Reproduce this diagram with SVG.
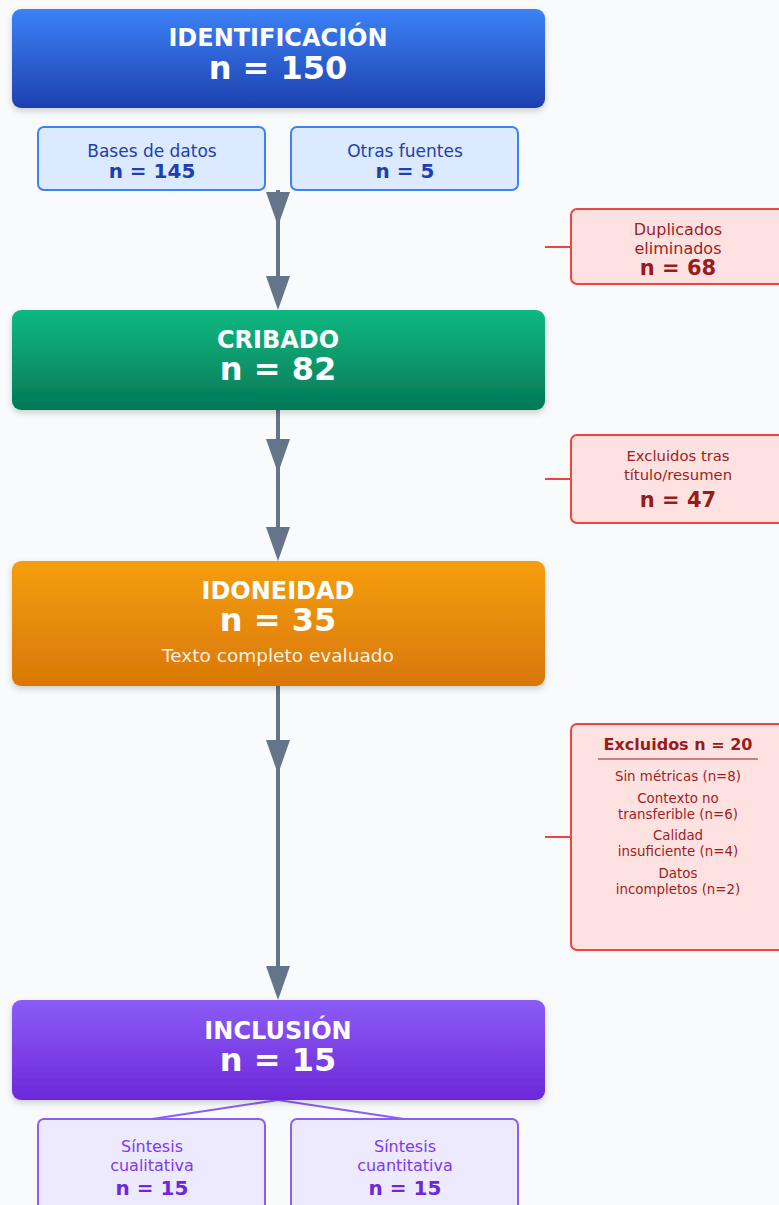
<svg xmlns="http://www.w3.org/2000/svg" width="779" height="1205" viewBox="0 0 779 1205">
<defs>
<linearGradient id="gBlue" x1="0" y1="0" x2="0" y2="1"><stop offset="0" stop-color="#3b82f6"/><stop offset="1" stop-color="#1e40af"/></linearGradient>
<linearGradient id="gGreen" x1="0" y1="0" x2="0" y2="1"><stop offset="0" stop-color="#10b981"/><stop offset="1" stop-color="#047857"/></linearGradient>
<linearGradient id="gOrange" x1="0" y1="0" x2="0" y2="1"><stop offset="0" stop-color="#f59e0b"/><stop offset="1" stop-color="#d97706"/></linearGradient>
<linearGradient id="gPurple" x1="0" y1="0" x2="0" y2="1"><stop offset="0" stop-color="#8b5cf6"/><stop offset="1" stop-color="#6d28d9"/></linearGradient>
<filter id="sh" x="-5%" y="-10%" width="110%" height="130%"><feDropShadow dx="0" dy="3" stdDeviation="3" flood-color="#000" flood-opacity="0.18"/></filter>
<marker id="ah" viewBox="0 0 34 24" refX="24" refY="12" markerWidth="34" markerHeight="24" markerUnits="userSpaceOnUse" orient="auto"><path d="M0,0 L34,12 L0,24 Z" fill="#64748b"/></marker>
</defs>
<style>
text{font-family:"DejaVu Sans","Noto Sans",sans-serif;text-anchor:middle}
.t{fill:#fff;font-weight:bold;font-size:24px}
.n{fill:#fff;font-weight:bold;font-size:32px}
.sub{fill:#fff;fill-opacity:.9;font-size:18.5px}
.bb{fill:#dbeafe;stroke:#3b82f6;stroke-width:2}
.bl{fill:#1e40af;font-size:17px}
.bn{fill:#1e40af;font-size:20px;font-weight:bold}
.rb{fill:#fee2e2;stroke:#ef4444;stroke-width:2}
.rl{fill:#9f1d1d}
.rn{fill:#991b1b;font-weight:bold;font-size:21px}
.ri{fill:#9f1d1d;font-size:13.4px}
.pb{fill:#ede9fe;stroke:#8b5cf6;stroke-width:2}
.pl{fill:#7c3aed;font-size:16px}
.pn{fill:#6d28d9;font-size:20px;font-weight:bold}
.ln{stroke:#64748b;stroke-width:4;fill:none}
.rc{stroke:#ef4444;stroke-width:2;fill:none}
.pc{stroke:#8b5cf6;stroke-width:2;fill:none}
</style>
<rect width="779" height="1205" fill="#f8fafc"/>

<g id="connectors">
<line class="ln" x1="278" y1="190" x2="278" y2="300" marker-end="url(#ah)"/>
<path d="M266,192 L290,192 L278,226 Z" fill="#64748b"/>
<line class="ln" x1="278" y1="410" x2="278" y2="551" marker-end="url(#ah)"/>
<path d="M266,439 L290,439 L278,473 Z" fill="#64748b"/>
<line class="ln" x1="278" y1="686" x2="278" y2="990" marker-end="url(#ah)"/>
<path d="M266,740 L290,740 L278,774 Z" fill="#64748b"/>
<line class="rc" x1="545" y1="247" x2="571" y2="247"/>
<line class="rc" x1="545" y1="479" x2="571" y2="479"/>
<line class="rc" x1="545" y1="837" x2="571" y2="837"/>
<line class="pc" x1="278" y1="1100" x2="152" y2="1119"/>
<line class="pc" x1="278" y1="1100" x2="404" y2="1119"/>
</g>

<g id="identificacion">
<rect x="12" y="9" width="533" height="99" rx="9" fill="url(#gBlue)" filter="url(#sh)"/>
<text class="t" x="278" y="46">IDENTIFICACIÓN</text>
<text class="n" x="278" y="79">n = 150</text>
</g>
<g id="bases">
<rect class="bb" x="38" y="127" width="227" height="63" rx="6"/>
<text class="bl" x="152" y="157">Bases de datos</text>
<text class="bn" x="152" y="178">n = 145</text>
</g>
<g id="otras">
<rect class="bb" x="291" y="127" width="227" height="63" rx="6"/>
<text class="bl" x="405" y="157">Otras fuentes</text>
<text class="bn" x="405" y="178">n = 5</text>
</g>
<g id="duplicados">
<rect class="rb" x="571" y="209" width="214" height="75" rx="6"/>
<text class="rl" x="678" y="235" font-size="16">Duplicados</text>
<text class="rl" x="678" y="254" font-size="16">eliminados</text>
<text class="rn" x="678" y="275">n = 68</text>
</g>
<g id="cribado">
<rect x="12" y="310" width="533" height="100" rx="9" fill="url(#gGreen)" filter="url(#sh)"/>
<text class="t" x="278" y="348">CRIBADO</text>
<text class="n" x="278" y="380">n = 82</text>
</g>
<g id="excluidos-titulo">
<rect class="rb" x="571" y="435" width="214" height="88" rx="6"/>
<text class="rl" x="678" y="461" font-size="14.8">Excluidos tras</text>
<text class="rl" x="678" y="480" font-size="14.8">título/resumen</text>
<text class="rn" x="678" y="507">n = 47</text>
</g>
<g id="idoneidad">
<rect x="12" y="561" width="533" height="125" rx="9" fill="url(#gOrange)" filter="url(#sh)"/>
<text class="t" x="278" y="599">IDONEIDAD</text>
<text class="n" x="278" y="631">n = 35</text>
<text class="sub" x="278" y="662">Texto completo evaluado</text>
</g>
<g id="excluidos-texto">
<rect class="rb" x="571" y="724" width="214" height="226" rx="6"/>
<text x="678" y="750" fill="#991b1b" font-size="16" font-weight="bold">Excluidos n = 20</text>
<line x1="598" y1="759" x2="758" y2="759" stroke="#991b1b" stroke-width="1"/>
<text class="ri" x="678" y="781">Sin métricas (n=8)</text>
<text class="ri" x="678" y="803">Contexto no</text>
<text class="ri" x="678" y="819">transferible (n=6)</text>
<text class="ri" x="678" y="840">Calidad</text>
<text class="ri" x="678" y="856">insuficiente (n=4)</text>
<text class="ri" x="678" y="878">Datos</text>
<text class="ri" x="678" y="894">incompletos (n=2)</text>
</g>
<g id="inclusion">
<rect x="12" y="1000" width="533" height="100" rx="9" fill="url(#gPurple)" filter="url(#sh)"/>
<text class="t" x="278" y="1039">INCLUSIÓN</text>
<text class="n" x="278" y="1071">n = 15</text>
</g>
<g id="cualitativa">
<rect class="pb" x="38" y="1119" width="227" height="100" rx="6"/>
<text class="pl" x="152" y="1152">Síntesis</text>
<text class="pl" x="152" y="1171">cualitativa</text>
<text class="pn" x="152" y="1195">n = 15</text>
</g>
<g id="cuantitativa">
<rect class="pb" x="291" y="1119" width="227" height="100" rx="6"/>
<text class="pl" x="405" y="1152">Síntesis</text>
<text class="pl" x="405" y="1171">cuantitativa</text>
<text class="pn" x="405" y="1195">n = 15</text>
</g>
</svg>
